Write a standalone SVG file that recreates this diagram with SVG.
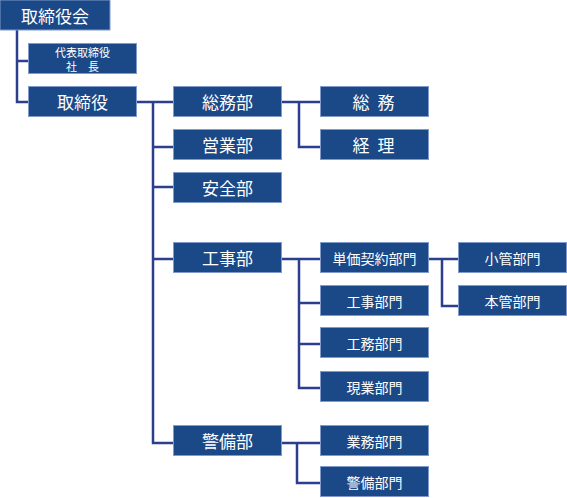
<svg xmlns="http://www.w3.org/2000/svg" width="567" height="498" viewBox="0 0 567 498">
<style>
.b{fill:#1b4886;stroke:#7f9acb;stroke-width:1}
.t{fill:#fff;font-family:"Noto Sans CJK JP","Noto Sans",sans-serif;text-anchor:middle;dominant-baseline:central}
.l{font-size:17px}
.m{font-size:14px}
.s{font-size:11px}
.c{fill:none;stroke:#2b3f8e;stroke-width:2.5}
</style>
<rect width="567" height="498" fill="#fff"/>
<g id="connectors">
<path class="c" d="M17 30V102H28M17 61H28"/>
<path class="c" d="M137 102H173M153 102V443H173M153 147H173M153 187H173M153 259H173"/>
<path class="c" d="M282 102H320M299 102V147H320"/>
<path class="c" d="M282 259H320M299 259V388H320M299 303H320M299 344H320"/>
<path class="c" d="M428 259H458M442 259V306H458"/>
<path class="c" d="M282 443H320M297 443V483H320"/>
</g>
<g id="n1"><rect class="b" x="0" y="0" width="110" height="30"/><text class="t l" x="55" y="15">取締役会</text></g>
<g id="n2"><rect class="b" x="28.5" y="43.5" width="108" height="30"/><text class="t s" x="82.5" y="51.5">代表取締役</text><text class="t s" x="82.5" y="66">社　長</text></g>
<g id="n3"><rect class="b" x="28.5" y="86.5" width="108" height="30"/><text class="t l" x="82.5" y="101.5">取締役</text></g>
<g id="n4"><rect class="b" x="173.5" y="86.5" width="108" height="30"/><text class="t l" x="227.5" y="101.5">総務部</text></g>
<g id="n5"><rect class="b" x="173.5" y="129.5" width="108" height="30"/><text class="t l" x="227.5" y="144.5">営業部</text></g>
<g id="n6"><rect class="b" x="173.5" y="172.5" width="108" height="30"/><text class="t l" x="227.5" y="187.5">安全部</text></g>
<g id="n7"><rect class="b" x="173.5" y="242.5" width="108" height="30"/><text class="t l" x="227.5" y="257.5">工事部</text></g>
<g id="n8"><rect class="b" x="173.5" y="425.5" width="108" height="30"/><text class="t l" x="227.5" y="440.5">警備部</text></g>
<g id="n9"><rect class="b" x="320.5" y="86.5" width="108" height="30"/><text class="t l" x="374.5" y="101.5" letter-spacing="2">総 務</text></g>
<g id="n10"><rect class="b" x="320.5" y="129.5" width="108" height="30"/><text class="t l" x="374.5" y="144.5" letter-spacing="2">経 理</text></g>
<g id="n11"><rect class="b" x="320.5" y="242.5" width="108" height="30"/><text class="t m" x="374.5" y="257.5">単価契約部門</text></g>
<g id="n12"><rect class="b" x="320.5" y="285.5" width="108" height="30"/><text class="t m" x="374.5" y="300.5">工事部門</text></g>
<g id="n13"><rect class="b" x="320.5" y="327.5" width="108" height="30"/><text class="t m" x="374.5" y="342.5">工務部門</text></g>
<g id="n14"><rect class="b" x="320.5" y="371.5" width="108" height="30"/><text class="t m" x="374.5" y="386.5">現業部門</text></g>
<g id="n15"><rect class="b" x="320.5" y="425.5" width="108" height="30"/><text class="t m" x="374.5" y="440.5">業務部門</text></g>
<g id="n16"><rect class="b" x="320.5" y="466.5" width="108" height="30"/><text class="t m" x="374.5" y="481.5">警備部門</text></g>
<g id="n17"><rect class="b" x="458.5" y="242.5" width="108" height="30"/><text class="t m" x="512.5" y="257.5">小管部門</text></g>
<g id="n18"><rect class="b" x="458.5" y="285.5" width="108" height="30"/><text class="t m" x="512.5" y="300.5">本管部門</text></g>
</svg>
